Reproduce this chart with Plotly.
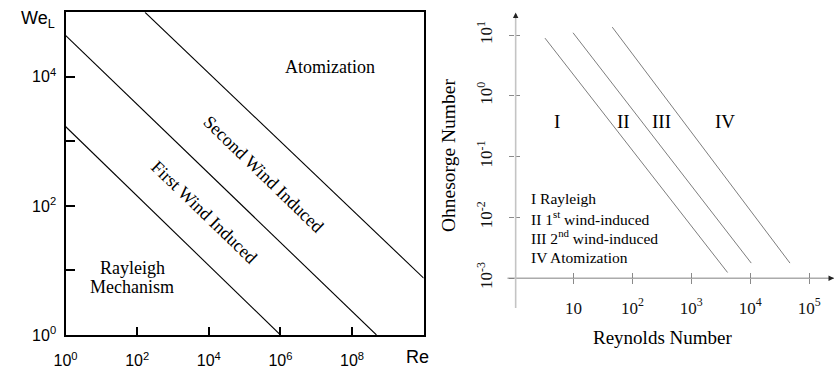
import numpy as np
import plotly.graph_objects as go

W, H = 835, 378

# ---- Left panel: liquid Weber number vs Reynolds number regime boundaries ----
re_rayleigh = [1.0, 1.0e6]
we_rayleigh = [1700.0, 1.0]
re_first_wind = [1.0, 4.8e8]
we_first_wind = [4.4e4, 1.0]
re_second_wind = [166.0, 1.0e10]
we_second_wind = [1.0e5, 7.6]

left_xticks = [1, 1e2, 1e4, 1e6, 1e8]
left_xticklabels = ["10<sup>0</sup>", "10<sup>2</sup>", "10<sup>4</sup>",
                    "10<sup>6</sup>", "10<sup>8</sup>"]
left_yticks = [1, 100, 10000]
left_yticklabels = ["10<sup>0</sup>", "10<sup>2</sup>", "10<sup>4</sup>"]
left_yminor = [10, 1000]

# ---- Right panel: Ohnesorge number vs Reynolds number boundaries ----
re_bound_1 = [3.27, 4120.0]
oh_bound_1 = [8.9, 1.24e-3]
re_bound_2 = [9.8, 1.04e4]
oh_bound_2 = [10.9, 1.77e-3]
re_bound_3 = [45.4, 4.73e4]
oh_bound_3 = [13.5, 1.77e-3]

right_xticks = [10, 1e2, 1e3, 1e4, 1e5]
right_xticklabels = ["10", "10<sup>2</sup>", "10<sup>3</sup>", "10<sup>4</sup>", "10<sup>5</sup>"]
right_yticks = [1e-3, 1e-2, 1e-1, 1, 10]
right_yticklabels = ["10<sup>-3</sup>", "10<sup>-2</sup>", "10<sup>-1</sup>",
                     "10<sup>0</sup>", "10<sup>1</sup>"]

regime_names = ["I", "II", "III", "IV"]
legend_lines = ["I Rayleigh", "II 1<sup>st</sup> wind-induced",
                "III 2<sup>nd</sup> wind-induced", "IV Atomization"]

SANS = "Liberation Sans, Arial, sans-serif"
SERIF = "Liberation Serif, Times New Roman, serif"


def px_x(p):
    return p / W


def px_y(p):
    return 1 - p / H


fig = go.Figure()

for xs, ys in [(re_rayleigh, we_rayleigh), (re_first_wind, we_first_wind),
               (re_second_wind, we_second_wind)]:
    fig.add_trace(go.Scatter(x=xs, y=ys, mode="lines", xaxis="x", yaxis="y",
                             line=dict(color="black", width=1.1),
                             showlegend=False, hoverinfo="skip"))

# the right-panel boundaries are spread over the two overlaid axis pairs
# (identical ranges) so that both tick sets get drawn
right_axes = [("x2", "y2"), ("x3", "y3"), ("x3", "y3")]
for (xs, ys), (xa, ya) in zip([(re_bound_1, oh_bound_1), (re_bound_2, oh_bound_2),
                               (re_bound_3, oh_bound_3)], right_axes):
    fig.add_trace(go.Scatter(x=xs, y=ys, mode="lines", xaxis=xa, yaxis=ya,
                             line=dict(color="#6e6e6e", width=0.9),
                             showlegend=False, hoverinfo="skip"))

# right panel scale: Re = 1 at x=510 px, 59.75 px/decade; Oh = 1e-3 at y=286.5 px, 62.6 px/decade
x2_left, x2_right = 510.0, 835.0
y2_bottom, y2_top = 286.5, 13.0
x2_range = [0, (x2_right - x2_left) / 59.75]
y2_range = [-3, -3 + (y2_bottom - y2_top) / 62.6]

common_off = dict(showgrid=False, zeroline=False)

fig.update_layout(
    width=W, height=H,
    margin=dict(l=0, r=0, t=0, b=0),
    paper_bgcolor="white", plot_bgcolor="rgba(0,0,0,0)",
    showlegend=False,
    xaxis=dict(type="log", range=[0, 10], domain=[px_x(54.3), px_x(417.7)],
               anchor="y", mirror=True, showline=True, linewidth=2.4, linecolor="black",
               ticks="inside", ticklen=8, tickwidth=2, tickcolor="black",
               tickmode="array", tickvals=left_xticks, ticktext=left_xticklabels,
               tickfont=dict(family=SANS, size=16, color="black"),
               ticklabelstandoff=10, **common_off),
    yaxis=dict(type="log", range=[0, 5], domain=[px_y(345), px_y(12.7)],
               anchor="x", mirror=True, showline=True, linewidth=2.4, linecolor="black",
               ticks="inside", ticklen=9, tickwidth=2, tickcolor="black",
               tickmode="array", tickvals=left_yticks, ticktext=left_yticklabels,
               minor=dict(tickmode="array", tickvals=left_yminor, ticks="inside",
                          ticklen=9, tickwidth=2, tickcolor="black", showgrid=False),
               tickfont=dict(family=SANS, size=16, color="black"),
               ticklabelstandoff=4, **common_off),
    xaxis2=dict(type="log", range=x2_range, domain=[px_x(x2_left), px_x(x2_right)],
                anchor="y2", showline=False, ticks="inside", ticklen=5, tickwidth=1,
                tickcolor="#8a8a8a", tickmode="array", tickvals=right_xticks,
                showticklabels=False, **common_off),
    xaxis3=dict(type="log", range=x2_range, overlaying="x2", anchor="y2", side="bottom",
                showline=False, ticks="outside", ticklen=5, tickwidth=1,
                tickcolor="#8a8a8a", tickmode="array", tickvals=right_xticks,
                ticktext=right_xticklabels,
                tickfont=dict(family=SERIF, size=17, color="#111"),
                ticklabelstandoff=9, **common_off),
    yaxis2=dict(type="log", range=y2_range, domain=[px_y(y2_bottom), px_y(y2_top)],
                anchor="x2", showline=False, ticks="inside", ticklen=5, tickwidth=1,
                tickcolor="#8a8a8a", tickmode="array", tickvals=right_yticks,
                showticklabels=False, **common_off),
    yaxis3=dict(type="log", range=y2_range, overlaying="y2", anchor="x2", side="left",
                showline=False, ticks="outside", ticklen=5, tickwidth=1,
                tickcolor="#8a8a8a", tickmode="array", tickvals=right_yticks,
                ticktext=right_yticklabels, tickangle=-90,
                tickfont=dict(family=SERIF, size=17, color="#111"),
                ticklabelstandoff=10, **common_off),
)

ann = []

# left panel text
ann.append(dict(text="We<sub>L</sub>", xref="paper", yref="paper", x=px_x(7), y=px_y(20),
                xanchor="left", yanchor="middle", showarrow=False,
                font=dict(family=SANS, size=18, color="black")))
ann.append(dict(text="Re", xref="paper", yref="paper", x=px_x(411), y=px_y(368),
                xanchor="center", yanchor="middle", showarrow=False,
                font=dict(family=SANS, size=18, color="black")))
left_labels = [
    ("Atomization", 7.39, 4.16, 0),
    ("Second Wind Induced", 5.52, 2.49, 44),
    ("First Wind Induced", 3.87, 1.91, 44),
    ("Rayleigh", 1.87, 1.04, 0),
    ("Mechanism", 1.87, 0.74, 0),
]
for txt, lx, ly, ang in left_labels:
    ann.append(dict(text=txt, xref="x", yref="y", x=lx, y=ly, textangle=ang,
                    showarrow=False, xanchor="center", yanchor="middle", borderpad=0,
                    font=dict(family=SERIF, size=18, color="black")))

# right panel axis lines (gray) with small dark arrowheads
ann.append(dict(text="", xref="paper", yref="paper", x=1.0, y=px_y(y2_bottom),
                ax=-(835 - 506), ay=0, axref="pixel", ayref="pixel", showarrow=True,
                arrowhead=0, arrowwidth=1, arrowcolor="#808080",
                standoff=0, startstandoff=0))
ann.append(dict(text="", xref="paper", yref="paper", x=px_x(511), y=px_y(15),
                ax=0, ay=310 - 15, axref="pixel", ayref="pixel", showarrow=True,
                arrowhead=0, arrowwidth=1.6, arrowcolor="#c4c4c4",
                standoff=0, startstandoff=0))
ann.append(dict(text="", xref="paper", yref="paper", x=1.0, y=px_y(y2_bottom),
                ax=-7, ay=0, axref="pixel", ayref="pixel", showarrow=True,
                arrowhead=2, arrowsize=1.1, arrowwidth=1, arrowcolor="#222",
                standoff=0, startstandoff=0))
ann.append(dict(text="", xref="paper", yref="paper", x=px_x(511), y=px_y(13),
                ax=0, ay=7, axref="pixel", ayref="pixel", showarrow=True,
                arrowhead=2, arrowsize=1.1, arrowwidth=1, arrowcolor="#222",
                standoff=0, startstandoff=0))

# regime numerals
for name, lx in zip(regime_names, [0.72, 1.85, 2.49, 3.57]):
    ann.append(dict(text=name, xref="x2", yref="y2", x=lx, y=-0.42, showarrow=False,
                    xanchor="center", yanchor="middle",
                    font=dict(family=SERIF, size=19, color="black")))

# regime key
for i, line in enumerate(legend_lines):
    ann.append(dict(text=line, xref="paper", yref="paper", x=px_x(525),
                    y=px_y(204 + 20.3 * i), xanchor="left", yanchor="middle",
                    showarrow=False, font=dict(family=SERIF, size=15.5, color="black")))

ann.append(dict(text="Reynolds Number", xref="paper", yref="paper", x=px_x(660),
                y=px_y(348), showarrow=False, xanchor="center", yanchor="middle",
                font=dict(family=SERIF, size=19, color="black")))
ann.append(dict(text="Ohnesorge Number", xref="paper", yref="paper", x=px_x(443),
                y=px_y(160), textangle=-90, showarrow=False, xanchor="center",
                yanchor="middle", font=dict(family=SERIF, size=19.5, color="black")))

fig.update_layout(annotations=ann)

fig.write_html("out.html")
